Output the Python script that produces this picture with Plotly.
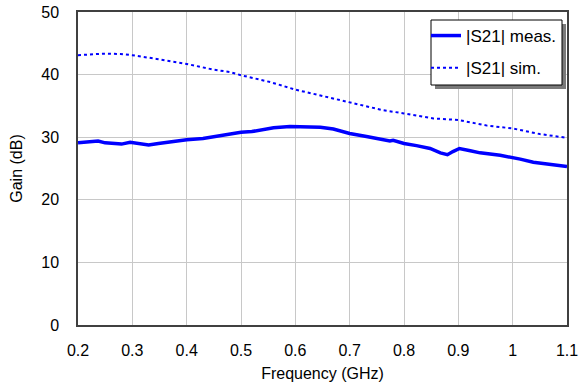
import plotly.graph_objects as go

meas_f = [0.2, 0.237, 0.25, 0.28, 0.296, 0.33, 0.348, 0.4, 0.43, 0.5, 0.52, 0.56, 0.59, 0.615,
          0.646, 0.67, 0.7, 0.731, 0.756, 0.774, 0.78, 0.8, 0.823, 0.848, 0.867, 0.88, 0.89,
          0.902, 0.922, 0.94, 0.977, 1.0, 1.014, 1.038, 1.063, 1.08, 1.1]
meas_g = [29.1, 29.4, 29.1, 28.9, 29.2, 28.75, 29.0, 29.6, 29.8, 30.8, 30.9, 31.5, 31.7, 31.65,
          31.6, 31.3, 30.6, 30.1, 29.7, 29.4, 29.5, 29.0, 28.65, 28.2, 27.5, 27.2, 27.7,
          28.2, 27.85, 27.5, 27.1, 26.8, 26.5, 26.0, 25.7, 25.6, 25.3]

sim_f = [0.2, 0.247, 0.278, 0.3, 0.345, 0.4, 0.449, 0.48, 0.5, 0.554, 0.6, 0.67, 0.7, 0.762,
         0.8, 0.854, 0.9, 0.953, 1.0, 1.05, 1.1]
sim_g = [43.1, 43.35, 43.3, 43.1, 42.5, 41.7, 40.8, 40.4, 39.9, 38.8, 37.6, 36.2, 35.5, 34.3,
         33.8, 33.0, 32.75, 31.85, 31.4, 30.5, 29.9]

x_ticks = [0.2, 0.3, 0.4, 0.5, 0.6, 0.7, 0.8, 0.9, 1.0, 1.1]
x_labels = ["0.2", "0.3", "0.4", "0.5", "0.6", "0.7", "0.8", "0.9", "1", "1.1"]
y_ticks = [0, 10, 20, 30, 40, 50]

FONT = "Liberation Sans, Arial, sans-serif"
L, R, T, B = 78, 12, 12, 65
PW, PH = 579 - L - R, 390 - T - B


def px_x(p):
    return (p - L) / PW


def px_y(p):
    return (390 - B - p) / PH


fig = go.Figure()
fig.add_trace(go.Scatter(x=meas_f, y=meas_g, mode="lines", name="|S21| meas.",
                         legendgroup="a",
                         line=dict(color="#0000ff", width=3.5)))
fig.add_trace(go.Scatter(x=sim_f, y=sim_g, mode="lines", name="|S21| sim.",
                         legendgroup="b",
                         line=dict(color="#0000ff", width=2, dash="dot")))

axis_common = dict(showgrid=True, gridcolor="#c8c8c8", gridwidth=1,
                   showline=True, linecolor="#404040", linewidth=1.5, mirror=True,
                   zeroline=False, ticks="", automargin=False,
                   tickfont=dict(size=16, color="#000", family=FONT))

fig.update_xaxes(range=[0.2, 1.1], tickvals=x_ticks, ticktext=x_labels,
                 title=dict(text="Frequency (GHz)", font=dict(size=16, family=FONT, color="#000"),
                            standoff=10),
                 ticklabelstandoff=10, **axis_common)
fig.update_yaxes(range=[0, 50], tickvals=y_ticks,
                 title=dict(text="Gain (dB)", font=dict(size=16, family=FONT, color="#000"),
                            standoff=15),
                 ticklabelstandoff=14, **axis_common)

# legend frame with drop shadow
fig.add_shape(type="rect", xref="paper", yref="paper",
              x0=px_x(435), x1=px_x(566), y0=px_y(89), y1=px_y(24),
              fillcolor="#7a7a7a", line=dict(width=0), layer="above")
fig.add_shape(type="rect", xref="paper", yref="paper",
              x0=px_x(431), x1=px_x(562), y0=px_y(85), y1=px_y(20),
              fillcolor="white", line=dict(color="#000", width=1), layer="above")

fig.update_layout(
    width=579, height=390,
    margin=dict(l=L, r=R, t=T, b=B),
    paper_bgcolor="white", plot_bgcolor="white",
    font=dict(family=FONT, color="#000"),
    legend=dict(x=px_x(426), xanchor="left", y=px_y(18), yanchor="top",
                bgcolor="rgba(0,0,0,0)", borderwidth=0,
                font=dict(size=17, family=FONT, color="#000"),
                traceorder="grouped", tracegroupgap=7, itemwidth=30),
)

fig.write_html("out.html")
